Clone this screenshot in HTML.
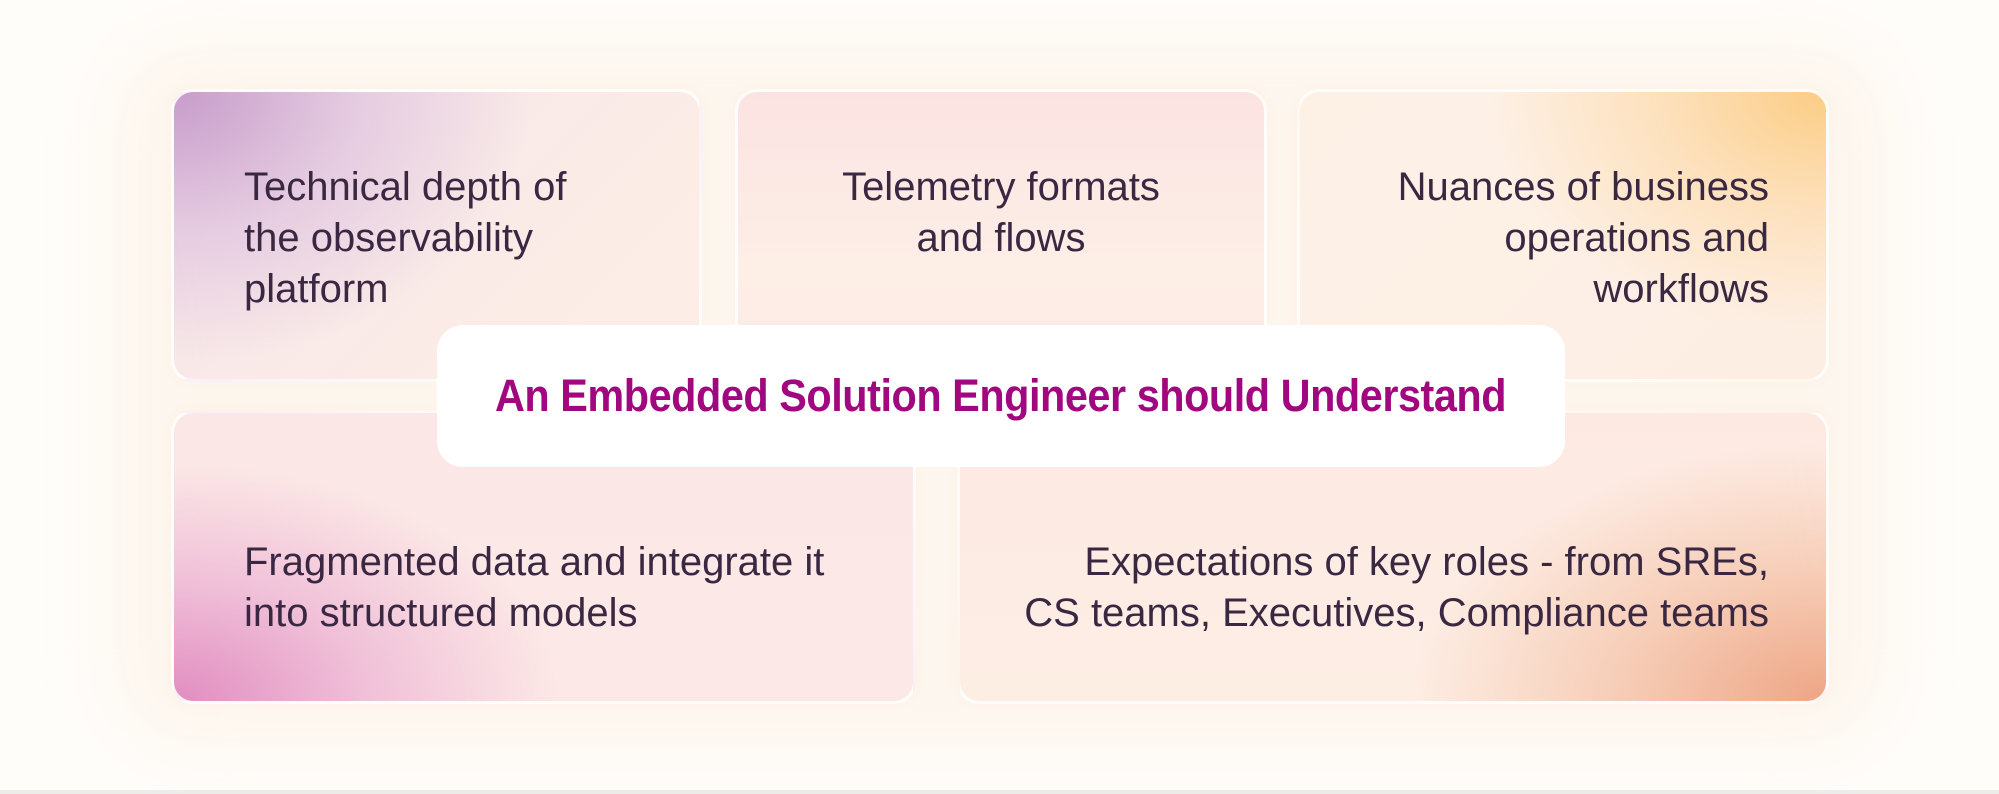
<!DOCTYPE html>
<html><head><meta charset="utf-8"><style>
*{margin:0;padding:0;box-sizing:border-box}
body{width:1999px;height:794px;background:#fffdfa;position:relative;overflow:hidden;font-family:"Liberation Sans",sans-serif}
.glow{position:absolute;left:110px;top:40px;width:1780px;height:710px;border-radius:80px;background:#fdf6ee;filter:blur(30px)}
.b{position:absolute;border-radius:22px;border:3px solid rgba(255,255,255,0.85);color:#3a2843;font-size:40px;line-height:51px;box-shadow:0 0 10px rgba(255,240,225,0.8)}
.t{position:absolute;white-space:nowrap}
.c{position:absolute;left:437px;top:325px;width:1128px;height:142px;background:#fff;border-radius:26px;text-align:center;font-weight:bold;font-size:45px;color:#a1087f;line-height:142px}
.c span{display:inline-block;transform:scaleX(0.92);letter-spacing:-0.5px}
.line{position:absolute;left:0;top:790px;width:1999px;height:4px;background:#eeeceb}
</style></head><body>
<div class="glow"></div>
<div class="b" style="left:171px;top:89px;width:531px;height:293px;background:radial-gradient(ellipse 420px 320px at 0% 0%,#c79ccb 0%,#e6cde1 45%,rgba(253,238,228,0) 85%),linear-gradient(135deg,#f6e5ea,#fdefe5)">
<div class="t" style="left:70px;top:70px">Technical depth of<br>the observability<br>platform</div></div>
<div class="b" style="left:735px;top:89px;width:532px;height:293px;background:linear-gradient(180deg,#fbe3e2 0%,#fdeee6 60%,#fcebe6 100%)">
<div class="t" style="left:0;width:526px;text-align:center;top:70px">Telemetry formats<br>and flows</div></div>
<div class="b" style="left:1297px;top:89px;width:532px;height:293px;background:radial-gradient(ellipse 420px 300px at 100% 0%,#fbcd85 0%,#fde1bd 40%,rgba(253,240,228,0) 80%),linear-gradient(135deg,#fdf1e6,#fdeee4)">
<div class="t" style="right:57px;text-align:right;top:70px">Nuances of business<br>operations and<br>workflows</div></div>
<div class="b" style="left:171px;top:410px;width:745px;height:294px;background:radial-gradient(ellipse 480px 300px at 0% 100%,#e18dc0 0%,#f0c0d8 40%,rgba(252,236,230,0) 80%),linear-gradient(180deg,#fbe8e6,#fce8e6)">
<div class="t" style="left:70px;top:124px">Fragmented data and integrate it<br>into structured models</div></div>
<div class="b" style="left:957px;top:410px;width:872px;height:294px;background:radial-gradient(ellipse 520px 320px at 100% 100%,#eea585 0%,#f6cdb7 40%,rgba(253,238,228,0) 80%),linear-gradient(180deg,#fde9e2,#fdeee4)">
<div class="t" style="right:57px;text-align:right;top:124px">Expectations of key roles - from SREs,<br>CS teams, Executives, Compliance teams</div></div>
<div class="c"><span>An Embedded Solution Engineer should Understand</span></div>
<div class="line"></div>
</body></html>
